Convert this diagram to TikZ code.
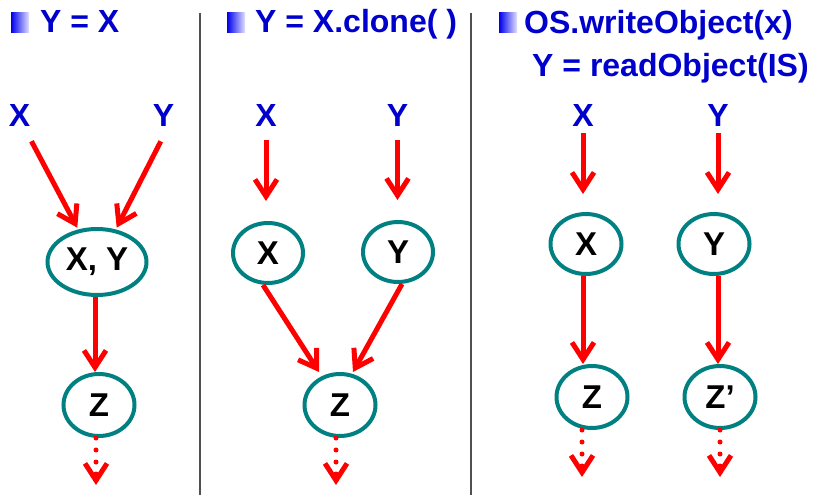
\documentclass[tikz,border=0pt]{standalone}
\usepackage{fontspec}
\setmainfont{Liberation Sans}
\usetikzlibrary{arrows.meta,shapes.geometric}
\definecolor{tblue}{RGB}{0,0,204}
\definecolor{tealc}{RGB}{0,128,128}
\definecolor{divgray}{RGB}{80,80,80}
\begin{document}
\begin{tikzpicture}[x=1pt,y=-1pt,
  lbl/.style={text=tblue,font=\fontsize{32}{32}\selectfont\bfseries,inner sep=0pt},
  ttl/.style={text=tblue,font=\fontsize{32}{32}\selectfont\bfseries,inner sep=0pt,anchor=base west},
  obj/.style={ellipse,draw=tealc,line width=4pt,inner sep=0pt,font=\fontsize{33}{33}\selectfont\bfseries,minimum width=71pt,minimum height=62pt},
  arr/.style={draw=red,line width=5pt,-{Straight Barb[length=17pt,width=22pt]}},
  dotarr/.style={arr,line cap=round,dash pattern=on 0pt off 12pt},
  bulletbox/.style={left color={rgb,255:red,0;green,0;blue,235},right color={rgb,255:red,225;green,225;blue,255}},
  divider/.style={draw=divgray,line width=2pt}
]
\useasboundingbox (0,0) rectangle (813,495);

% dividers
\draw[divider] (200,13) -- (200,495);
\draw[divider] (471,13) -- (471,495);

% titles
\shade[bulletbox] (11,13) rectangle (29,33);
\node[ttl] (t1) at (40,33) {Y = X};
\shade[bulletbox] (227,13) rectangle (245,33);
\node[ttl] (t2) at (255,33) {Y = X.clone( )};
\shade[bulletbox] (499,13) rectangle (517,33);
\node[ttl] (t3) at (524,34) {OS.writeObject(x)};
\node[ttl] (t4) at (532,77) {Y = readObject(IS)};

% panel 1
\node[lbl] (lx1) at (19.5,115) {X};
\node[lbl] (ly1) at (163.5,115) {Y};
\node[obj,minimum width=99pt,minimum height=66pt] (xy) at (97,262) {X, Y};
\node[obj] (z1) at (99,405) {Z};
\coordinate (d1) at (96,485);
\draw[arr,shorten <=17pt,shorten >=2pt] ([xshift=4pt]lx1.south) -- (xy.120);
\draw[arr,shorten <=17pt,shorten >=2pt] ([xshift=5pt]ly1.south) -- (xy.60);
\draw[arr] ([xshift=-2pt]xy.south) -- ([xshift=-2pt]xy.south |- z1.north);
\draw[dotarr] (d1 |- z1.south) -- (d1);

% panel 2
\node[lbl] (lx2) at (266,115) {X};
\node[lbl] (ly2) at (397.5,115) {Y};
\node[obj,minimum width=70pt,minimum height=60pt] (ex2) at (268,253) {X};
\node[obj,minimum width=70pt,minimum height=60pt] (ey2) at (398,252) {Y};
\node[obj] (z2) at (340,405) {Z};
\coordinate (d2) at (336,485);
\draw[arr,shorten <=14pt,shorten >=20pt] (lx2.south) -- (lx2.south |- ex2.north);
\draw[arr,shorten <=14pt,shorten >=20pt] (ly2.south) -- (ly2.south |- ey2.north);
\draw[arr] ([xshift=-5pt]ex2.south) -- ([xshift=-21pt]z2.north);
\draw[arr] ([xshift=4pt]ey2.south) -- ([xshift=13pt]z2.north);
\draw[dotarr] (d2 |- z2.south) -- (d2);

% panel 3
\node[lbl] (lx3) at (583,115) {X};
\node[lbl] (ly3) at (718,115) {Y};
\node[obj,minimum width=71pt,minimum height=60pt] (ex3) at (586,244) {X};
\node[obj,minimum width=71pt,minimum height=60pt] (ey3) at (714,244) {Y};
\node[obj] (z3) at (592,397) {Z};
\node[obj] (z4) at (720,397) {Z’};
\coordinate (d3) at (582,477);
\coordinate (d4) at (720,477);
\draw[arr,shorten <=7pt,shorten >=18pt] (lx3.south) -- (lx3.south |- ex3.north);
\draw[arr,shorten <=7pt,shorten >=18pt] (ly3.south) -- (ly3.south |- ey3.north);
\draw[arr] (lx3 |- ex3.south) -- (lx3 |- z3.north);
\draw[arr] (ly3 |- ey3.south) -- (ly3 |- z4.north);
\draw[dotarr] (d3 |- z3.south) -- (d3);
\draw[dotarr] (d4 |- z4.south) -- (d4);
\end{tikzpicture}
\end{document}
